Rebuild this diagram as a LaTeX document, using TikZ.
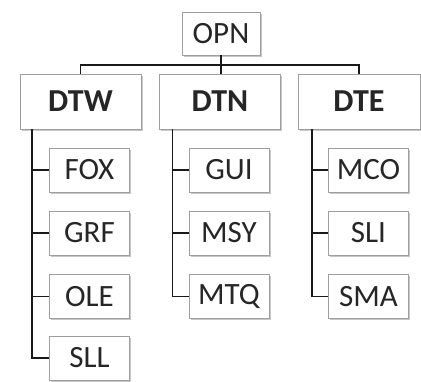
\documentclass[tikz,border=0pt]{standalone}
\usepackage{fontspec}
\setmainfont{Carlito}
\usetikzlibrary{shadows}

\tikzset{
  unitbox/.style={draw=gray!75, fill=white, inner sep=0pt,
    drop shadow={shadow xshift=1.5pt, shadow yshift=-1.5pt, fill=gray!55, opacity=0.8},
    font=\fontsize{31}{34}\selectfont, text=black!85},
  headbox/.style={unitbox, minimum width=121pt, minimum height=55pt, font=\fontsize{32}{34}\selectfont\bfseries},
  leafbox/.style={unitbox, minimum width=80pt, minimum height=44pt},
  tree/.style={line width=1.6pt, black!90}
}

\begin{document}
\begin{tikzpicture}[x=1pt, y=-1pt]
        \useasboundingbox (0,0) rectangle (421,381);

        % Top unit
        \node[unitbox, minimum width=78pt, minimum height=43pt] (opn) at (221,33.5) {OPN};

        % Departments
        \node[headbox] (dtw) at (80.5,101.5) {DTW};
        \node[headbox] (dtn) at (220,101.5) {DTN};
        \node[headbox, minimum width=122pt] (dte) at (359,101.5) {DTE};

        % Bus from OPN
        \draw[tree] (dtw.north) -- ++(0,-9) -| (dte.north);
        \draw[tree] (opn.south) -- (opn.south |- dtn.north);

        % DTW units
        \node[leafbox] (fox) at (89.5,170) {FOX};
        \node[leafbox] (grf) at (89.5,233) {GRF};
        \node[leafbox] (ole) at (89.5,296.5) {OLE};
        \node[leafbox] (sll) at (89.5,358) {SLL};

        % DTN units
        \node[leafbox] (gui) at (229,170) {GUI};
        \node[leafbox] (msy) at (229,233) {MSY};
        \node[leafbox] (mtq) at (229,296.5) {MTQ};

        % DTE units
        \node[leafbox] (mco) at (368.5,170) {MCO};
        \node[leafbox] (sli) at (368.5,233) {SLI};
        \node[leafbox] (sma) at (368.5,296.5) {SMA};

        % Trunks
        \coordinate (dtwtrunk) at ([xshift=12pt]dtw.south west);
        \coordinate (dtntrunk) at ([xshift=13pt]dtn.south west);
        \coordinate (dtetrunk) at ([xshift=14pt]dte.south west);
        \foreach \c in {fox,grf,ole,sll}
          \draw[tree] (dtwtrunk) |- (\c.west);
        \foreach \c in {gui,msy,mtq}
          \draw[tree] (dtntrunk) |- (\c.west);
        \foreach \c in {mco,sli,sma}
          \draw[tree] (dtetrunk) |- (\c.west);
    \end{tikzpicture}
\end{document}
